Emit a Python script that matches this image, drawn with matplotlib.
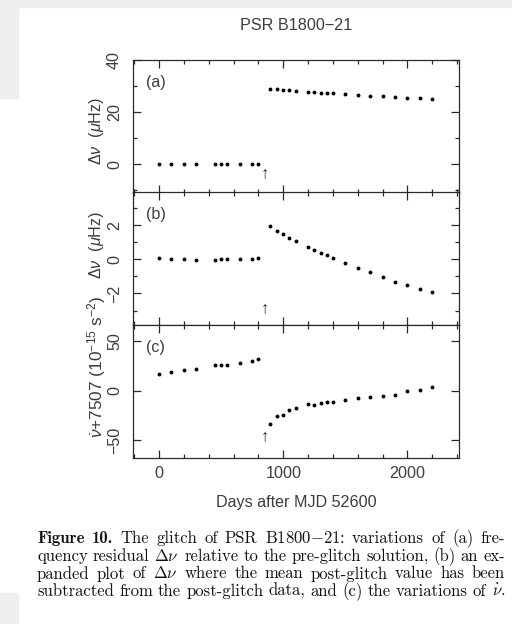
import matplotlib
matplotlib.use('Agg')
import matplotlib.pyplot as plt
from matplotlib.patches import Rectangle
from matplotlib.ticker import MultipleLocator

plt.rcParams['font.family'] = ['Liberation Sans', 'DejaVu Sans']
plt.rcParams['mathtext.fontset'] = 'custom'
plt.rcParams['mathtext.rm'] = 'Liberation Sans'
plt.rcParams['mathtext.it'] = 'Liberation Sans:italic'

# days after MJD 52600
pre_days = [0, 100, 200, 300, 450, 500, 550, 650, 750, 800]
post_days = [890, 950, 1000, 1050, 1100, 1200, 1250, 1300, 1350, 1400,
             1500, 1600, 1700, 1800, 1900, 2000, 2100, 2200]
glitch_day = 850

# (a) frequency residual, uHz
a_pre = [0.1, 0.03, 0.0, -0.02, -0.02, 0.0, 0.0, 0.01, 0.05, 0.08]
a_post = [29.0, 28.7, 28.5, 28.4, 28.2, 27.8, 27.6, 27.5, 27.3, 27.2,
          26.9, 26.6, 26.3, 26.1, 25.8, 25.6, 25.4, 25.2]

# (b) expanded residual, uHz
b_pre = [0.1, 0.03, 0.0, -0.02, -0.02, 0.0, 0.0, 0.01, 0.05, 0.08]
b_post = [1.96, 1.67, 1.46, 1.26, 1.07, 0.72, 0.54, 0.39, 0.23, 0.06,
          -0.22, -0.51, -0.76, -1.03, -1.31, -1.52, -1.74, -1.93]

# (c) nu-dot + 7507, 1e-15 s^-2
c_pre = [16.3, 18.3, 20.3, 22.0, 25.7, 25.4, 25.7, 28.1, 30.2, 31.5]
c_post = [-33.9, -26.1, -25.1, -20.0, -17.6, -13.9, -14.9, -12.9, -11.2, -11.9,
          -9.5, -7.5, -6.8, -5.4, -4.4, -1.0, 1.0, 3.7]

panels = [
    ('(a)', a_pre, a_post, (-11, 40), 20, 10, -3.8),
    ('(b)', b_pre, b_post, (-3.85, 3.95), 2, 1, -2.95),
    ('(c)', c_pre, c_post, (-68, 66), 50, 50, -47.5),
]
ylabels = [r'$\Delta\nu$  ($\mu$Hz)', r'$\Delta\nu$  ($\mu$Hz)',
           r'$\dot{\nu}$+7507 (10$^{-15}$ s$^{-2}$)']
ylabel_y = [131, 245, 367]
ylabel_fs = [11.6, 11.6, 12.4]

W, H = 512, 624
fig = plt.figure(figsize=(W / 100, H / 100), dpi=100)

grey = '#efefef'
fig.patches.append(Rectangle((0, 1 - 7 / H), 1, 7 / H, transform=fig.transFigure, color=grey, zorder=0))
fig.patches.append(Rectangle((0, 1 - 98 / H), 18 / W, 98 / H, transform=fig.transFigure, color=grey, zorder=0))
fig.patches.append(Rectangle((0, 0), 18 / W, 31 / H, transform=fig.transFigure, color=grey, zorder=0))

ink = '#2a2a2a'
txt = '#3c3c3c'
fs = 11.6
tops = [60, 192, 325]
ph = 133
left, right = 133, 459

for i, (tag, pre, post, ylim, major, minor, arrow_y) in enumerate(panels):
    ax = fig.add_axes([left / W, 1 - (tops[i] + ph) / H, (right - left) / W, ph / H])
    ax.plot(pre_days, pre, 'o', color='black', ms=2.8, mec='none')
    ax.plot(post_days, post, 'o', color='black', ms=2.8, mec='none')
    ax.set_xlim(-210, 2415)
    ax.set_ylim(*ylim)
    ax.xaxis.set_major_locator(MultipleLocator(1000))
    ax.xaxis.set_minor_locator(MultipleLocator(200))
    ax.yaxis.set_major_locator(MultipleLocator(major))
    ax.yaxis.set_minor_locator(MultipleLocator(minor))
    ax.tick_params(which='both', direction='in', top=True, right=True, color=ink, width=0.9,
                   labelsize=fs, labelcolor=txt)
    ax.tick_params(which='major', length=6)
    ax.tick_params(which='minor', length=3)
    ax.tick_params(axis='y', pad=8)
    ax.tick_params(axis='x', pad=6)
    for lbl in ax.get_yticklabels():
        lbl.set_rotation(90)
        lbl.set_va('center')
    for s in ax.spines.values():
        s.set_linewidth(0.9)
        s.set_color(ink)
    if i < 2:
        ax.tick_params(labelbottom=False)
    ax.text(0.07, 0.83, tag, transform=ax.transAxes, fontsize=fs, color=txt, ha='center', va='center')
    ax.text(glitch_day, arrow_y, '\u2191', fontsize=12, color=ink, ha='center', va='center')
    fig.text(97 / W, 1 - ylabel_y[i] / H, ylabels[i], rotation=90, ha='center', va='center',
             fontsize=ylabel_fs[i], color=txt)

fig.text(296 / W, 1 - 25 / H, 'PSR B1800\u221221', ha='center', va='center', fontsize=fs, color=txt)
fig.text(296 / W, 1 - 503 / H, 'Days after MJD 52600', ha='center', va='center', fontsize=fs, color=txt)

# caption, justified between x0 and x1
cap_lines = [
    r'Figure 10. The glitch of PSR B1800$-$21: variations of (a) fre-',
    r'quency residual $\Delta\nu$ relative to the pre-glitch solution, (b) an ex-',
    r'panded plot of $\Delta\nu$ where the mean post-glitch value has been',
    r'subtracted from the post-glitch data, and (c) the variations of $\dot{\nu}$.',
]
cap_base = [543, 561, 578.5, 596]
cap_x0, cap_x1 = 37, 505
cap_fs = 12.0

fig.canvas.draw()
r = fig.canvas.get_renderer()
for j, line in enumerate(cap_lines):
    words = line.split(' ')
    items = []
    for k, w in enumerate(words):
        fam = 'cmb10' if (j == 0 and k < 2) else 'cmr10'
        t = fig.text(0, 1 - cap_base[j] / H, w, family=fam, fontsize=cap_fs, va='baseline',
                     math_fontfamily='cm', color='#111111')
        items.append((t, t.get_window_extent(r).width))
    total = sum(wd for _, wd in items)
    gap = (cap_x1 - cap_x0 - total) / (len(items) - 1)
    x = cap_x0
    for t, wd in items:
        t.set_x(x / W)
        x += wd + gap

fig.savefig('out.png', dpi=100)
